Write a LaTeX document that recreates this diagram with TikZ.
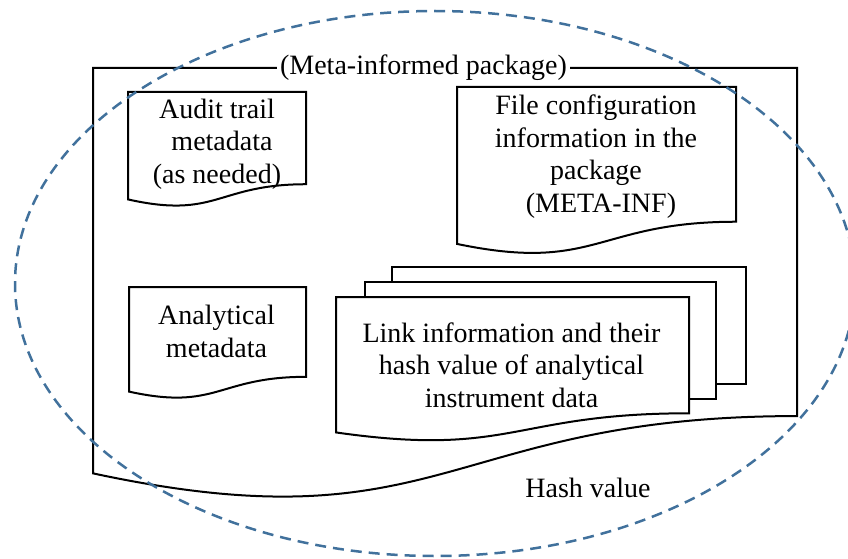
\documentclass[tikz,border=0pt]{standalone}
\usepackage{fontspec}
\setmainfont{Liberation Serif}
\usetikzlibrary{calc,shapes.geometric}
\definecolor{ellblue}{RGB}{65,113,156}
\tikzset{
  docline/.style={line width=2pt, draw=black, line join=miter},
  txt/.style={font=\fontsize{28}{32.5}\selectfont, align=center, inner sep=0pt},
  hashell/.style={ellipse, draw=ellblue, line width=2.5pt, dash pattern=on 11pt off 7pt, inner sep=0pt},
  docbox/.style={inner sep=0pt, outer sep=0pt, anchor=north west},
  pagebox/.style={docbox, docline, fill=white}
}
\newcommand{\docoutline}[2][]{%
  \draw[docline,#1] (#2.north west) -- (#2.north east)
    -- ($(#2.north east)!0.802!(#2.south east)$)
    .. controls ($(#2.north)!0.802!(#2.south)$) and ($(#2.north)!1.108!(#2.south)$)
    .. ($(#2.north west)!0.934!(#2.south west)$) -- cycle;}
\begin{document}
\begin{tikzpicture}[x=1pt,y=-1pt]
\useasboundingbox (0,0) rectangle (848,559);
% outer package
\node[docbox, minimum width=704pt, minimum height=434pt] (pkg) at (93,68) {};
\docoutline{pkg}
% documents
\node[docbox, minimum width=178pt, minimum height=115pt] (audit) at (128,92) {};
\docoutline{audit}
\node[docbox, minimum width=279pt, minimum height=168pt] (file) at (457,87) {};
\docoutline{file}
\node[docbox, minimum width=177pt, minimum height=112pt] (anal) at (129,287) {};
\docoutline{anal}
% stacked pages
\node[pagebox, minimum width=354pt, minimum height=117pt] (page3) at (392,267) {};
\node[pagebox, minimum width=351pt, minimum height=117pt] (page2) at (365,282) {};
\node[docbox, minimum width=353pt, minimum height=145pt] (link) at (336,297) {};
\docoutline[fill=white]{link}
% texts (anchor=base is the baseline of the last line)
\node[txt, fill=white, inner xsep=3pt] (title) at (423.5,68) {(Meta-informed package)};
\node[txt, anchor=base] (audit-t) at (217,183) {Audit trail\\\hspace*{10pt}metadata\\(as needed)};
\node[txt, anchor=base] (file-t) at (596,212) {File configuration\\information in the\\package\\\hspace*{10pt}(META-INF)};
\node[txt, anchor=base] (anal-t) at (216.5,357) {Analytical\\metadata};
\node[txt, anchor=base] (link-t) at (511.5,407) {Link information and their\\hash value of analytical\\instrument data};
\node[txt, anchor=base] (hashv) at (588,497) {Hash value};
% hash ellipse
\node[hashell, minimum width=840pt, minimum height=545pt] (hashed) at (435,283.5) {};
\end{tikzpicture}
\end{document}
